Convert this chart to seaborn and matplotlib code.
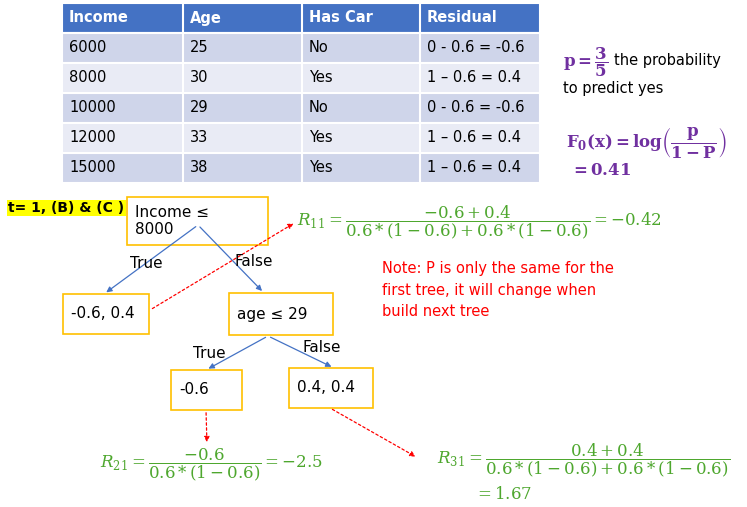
import matplotlib
matplotlib.use("Agg")
import matplotlib.pyplot as plt
import seaborn as sns
from matplotlib.patches import Rectangle, FancyArrowPatch

sns.set_theme(style="white")
plt.rcParams['font.family'] = ['DejaVu Sans']
plt.rcParams['mathtext.fontset'] = 'dejavuserif'
plt.rcParams['text.color'] = 'black'

# table data
headers = ["Income", "Age", "Has Car", "Residual"]
income = ["6000", "8000", "10000", "12000", "15000"]
age = ["25", "30", "29", "33", "38"]
has_car = ["No", "Yes", "No", "Yes", "Yes"]
residual = ["0 - 0.6 = -0.6", "1 – 0.6 = 0.4", "0 - 0.6 = -0.6", "1 – 0.6 = 0.4", "1 – 0.6 = 0.4"]

col_x = [62, 183, 302, 420, 540]
row_h = 30
top = 3

GREEN = "#4EA72E"
PURPLE = "#7030A0"
BLUE = "#4472C4"
GOLD = "#FFC000"

fig = plt.figure(figsize=(7.47, 5.07), dpi=100)
ax = fig.add_axes([0, 0, 1, 1])
ax.set_xlim(0, 747)
ax.set_ylim(507, 0)
ax.axis("off")

rows = [headers] + [list(r) for r in zip(income, age, has_car, residual)]
for i, row in enumerate(rows):
    y = top + i * row_h
    color = BLUE if i == 0 else ("#CFD5EA" if i % 2 == 1 else "#E9EBF5")
    ax.add_patch(Rectangle((col_x[0], y), col_x[-1] - col_x[0], row_h, fc=color, ec="white", lw=1.5))
    for j, txt in enumerate(row):
        ax.text(col_x[j] + 7, y + row_h / 2, txt, va="center", fontsize=10.5,
                color="white" if i == 0 else "black", fontweight="bold" if i == 0 else "normal")
for x in col_x[1:-1]:
    ax.plot([x, x], [top, top + row_h * 6], color="white", lw=1.5)

# right side formulas
ax.text(563, 62, r"$\mathbf{p = \dfrac{3}{5}}$", color=PURPLE, fontsize=12, va="center")
ax.text(614, 61, "the probability", fontsize=10.5, va="center")
ax.text(563, 88, "to predict yes", fontsize=10.5, va="center")
ax.text(566, 143, r"$\mathbf{F_0(x) = log\left(\dfrac{p}{1-P}\right)}$", color=PURPLE, fontsize=12, va="center")
ax.text(570, 170, r"$\mathbf{= 0.41}$", color=PURPLE, fontsize=12, va="center")

# t label
ax.text(8, 208, "t= 1, (B) & (C )", fontsize=10, fontweight="bold", va="center",
        bbox=dict(boxstyle="square,pad=0.1", fc="#FFFF00", ec="none"))

def box(x, y, w, h, text):
    ax.add_patch(Rectangle((x, y), w, h, fc="white", ec=GOLD, lw=1.2))
    ax.text(x + 8, y + h / 2, text, fontsize=11, va="center")

box(127, 197, 141, 48, "Income ≤\n8000")
box(63, 294, 86, 40, "-0.6, 0.4")
box(229, 293, 104, 42, "age ≤ 29")
box(171, 370, 71, 40, "-0.6")
box(289, 368, 84, 40, "0.4, 0.4")

for (x1, y1, x2, y2) in [(198, 225, 104, 294), (198, 225, 264, 293), (268, 336, 206, 370), (268, 336, 334, 368)]:
    ax.add_patch(FancyArrowPatch((x1, y1), (x2, y2), arrowstyle="-|>", mutation_scale=8, color=BLUE, lw=0.9))

ax.text(130, 263, "True", fontsize=11, va="center")
ax.text(234, 262, "False", fontsize=11, va="center")
ax.text(193, 353, "True", fontsize=11, va="center")
ax.text(302, 348, "False", fontsize=11, va="center")

for (x1, y1, x2, y2) in [(150, 310, 296, 222), (206, 410, 207, 445), (330, 408, 418, 458)]:
    ax.add_patch(FancyArrowPatch((x1, y1), (x2, y2), arrowstyle="-|>", mutation_scale=8, color="red",
                                 lw=0.9, linestyle=(0, (2, 2))))

ax.text(297, 222, r"$R_{11} = \dfrac{-0.6+0.4}{0.6*(1-0.6)+0.6*(1-0.6)} = -0.42$", color=GREEN, fontsize=12, va="center")
ax.text(382, 290, "Note: P is only the same for the\nfirst tree, it will change when\nbuild next tree",
        color="red", fontsize=10.5, va="center", linespacing=1.5)
ax.text(100, 465, r"$R_{21} = \dfrac{-0.6}{0.6*(1-0.6)} = -2.5$", color=GREEN, fontsize=12, va="center")
ax.text(437, 460, r"$R_{31} = \dfrac{0.4+0.4}{0.6*(1-0.6)+0.6*(1-0.6)}$", color=GREEN, fontsize=12, va="center")
ax.text(474, 494, r"$= 1.67$", color=GREEN, fontsize=12, va="center")

fig.savefig("out.png", dpi=100, facecolor="white")
